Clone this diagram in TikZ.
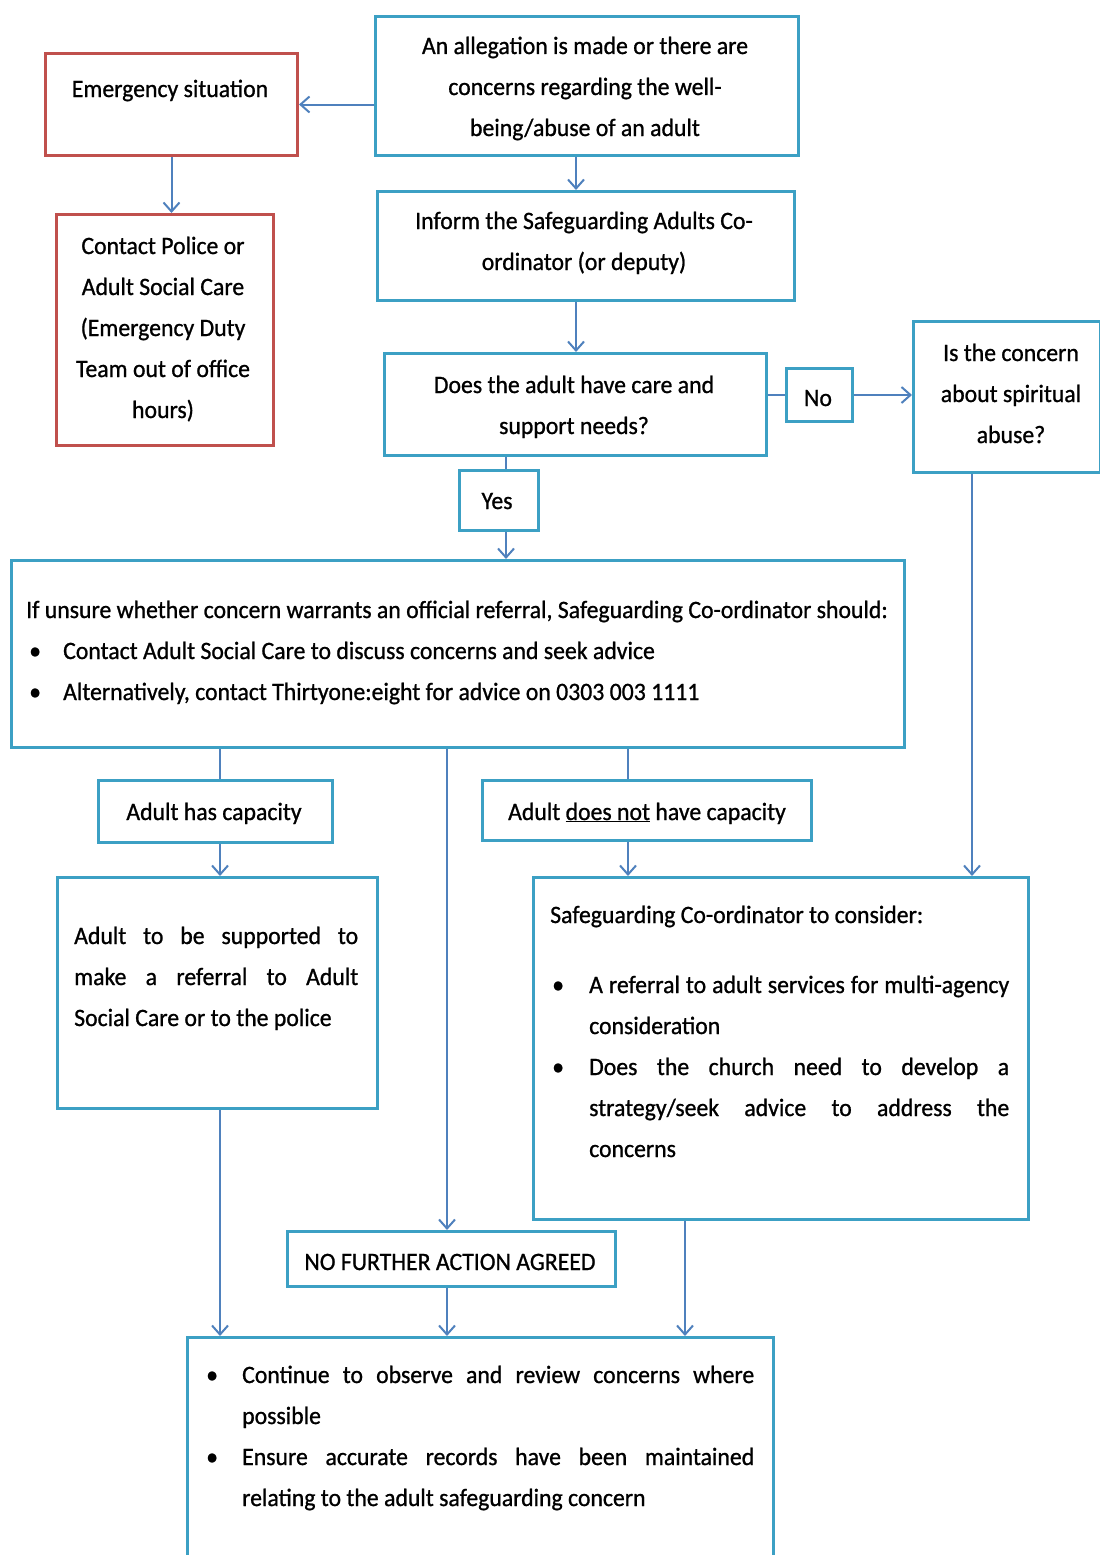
\documentclass[tikz,border=0pt]{standalone}
\usepackage{fontspec}
\setmainfont{Carlito}[FakeStretch=0.95,FakeBold=0.9]
\usetikzlibrary{arrows.meta}
\definecolor{boxblue}{RGB}{60,160,196}
\definecolor{arrblue}{RGB}{79,129,189}
\definecolor{boxred}{RGB}{192,80,77}
\newcommand\diagfont{\fontsize{25}{41}\selectfont}
\begin{document}
\begin{tikzpicture}[x=1pt,y=-1pt,
  bx/.style={draw=boxblue,line width=3pt,anchor=north west,inner sep=0pt},
  rbx/.style={draw=boxred,line width=3pt,anchor=north west,inner sep=0pt},
  txt/.style={inner sep=0pt,font=\diagfont,text width=#1,align=flush center,anchor=base},
  txtl/.style={inner sep=0pt,font=\diagfont,text width=#1,align=flush left,anchor=base west},
  conn/.style={draw=arrblue,line width=2pt},
  arr/.style={conn,-{Straight Barb[length=9pt,width=16pt,line width=2pt]}}]
\clip (0,0) rectangle (1100,1555);
\fill[white] (0,0) rectangle (1100,1555);
% boxes
\node[rbx,minimum width=252pt,minimum height=102pt] (emerg) at (44,52) {};
\node[rbx,minimum width=217pt,minimum height=231pt] (contact) at (55,213) {};
\node[bx,minimum width=423pt,minimum height=139pt] (alleg) at (374,15) {};
\node[bx,minimum width=417pt,minimum height=109pt] (inform) at (376,190) {};
\node[bx,minimum width=382pt,minimum height=102pt] (does) at (383,352) {};
\node[bx,minimum width=66pt,minimum height=53pt] (no) at (785,367) {};
\node[bx,minimum width=187pt,minimum height=151pt] (spirit) at (912,320) {};
\node[bx,minimum width=79pt,minimum height=60pt] (yes) at (458,469) {};
\node[bx,minimum width=893pt,minimum height=187pt] (big) at (10,559) {};
\node[bx,minimum width=234pt,minimum height=62pt] (cap) at (97,779) {};
\node[bx,minimum width=329pt,minimum height=60pt] (ncap) at (481,779) {};
\node[bx,minimum width=320pt,minimum height=231pt] (sup) at (56,876) {};
\node[bx,minimum width=495pt,minimum height=342pt] (sc) at (532,876) {};
\node[bx,minimum width=328pt,minimum height=55pt] (nfa) at (286,1230) {};
\node[bx,minimum width=586pt,minimum height=300pt] (final) at (186,1336) {};
% texts
\node[txt=300pt] (temerg) at (170,97) {Emergency situation};
\node[txt=215pt] (tcontact) at (163,254) {Contact Police or\\Adult Social Care\\(Emergency Duty\\Team out of office\\hours)};
\node[txt=420pt] (talleg) at (585,54) {An allegation is made or there are\\concerns regarding the well-\\being/abuse of an adult};
\node[txt=415pt] (tinform) at (584,229) {Inform the Safeguarding Adults Co-\\ordinator (or deputy)};
\node[txt=380pt] (tdoes) at (574,393) {Does the adult have care and\\support needs?};
\node[txt=60pt] (tno) at (818,406) {No};
\node[txt=185pt] (tspirit) at (1011,361) {Is the concern\\about spiritual\\abuse?};
\node[txt=75pt] (tyes) at (497,509) {Yes};
\node[txtl=1000pt] (tbig) at (26,618) {If unsure whether concern warrants an official referral, Safeguarding Co-ordinator should:\\
\makebox[37pt][l]{\hspace{3pt}\textbullet}Contact Adult Social Care to discuss concerns and seek advice\\
\makebox[37pt][l]{\hspace{3pt}\textbullet}Alternatively, contact Thirtyone:eight for advice on 0303 003 1111};
\node[txt=230pt] (tcap) at (214,820) {Adult has capacity};
\node[txt=325pt] (tncap) at (647,820) {Adult \underline{does not} have capacity};
\node[txtl=290pt] (tsup) at (74,944) {\makebox[284pt][s]{Adult to be supported to}\\
\makebox[284pt][s]{make a referral to Adult}\\
Social Care or to the police};
\node[txtl=500pt] (tsc) at (550,923) {Safeguarding Co-ordinator to consider:\\[29pt]
\makebox[39pt][l]{\hspace{2pt}\textbullet}\makebox[420pt][s]{A referral to adult services for multi-agency}\\
\hspace*{39pt}consideration\\
\makebox[39pt][l]{\hspace{2pt}\textbullet}\makebox[420pt][s]{Does the church need to develop a}\\
\hspace*{39pt}\makebox[420pt][s]{strategy/seek advice to address the}\\
\hspace*{39pt}concerns};
\node[txt=320pt] (tnfa) at (450,1270) {NO FURTHER ACTION AGREED};
\node[txtl=600pt] (tfinal) at (204,1383) {\makebox[38pt][l]{\hspace{2pt}\textbullet}\makebox[512pt][s]{Continue to observe and review concerns where}\\
\hspace*{38pt}possible\\
\makebox[38pt][l]{\hspace{2pt}\textbullet}\makebox[512pt][s]{Ensure accurate records have been maintained}\\
\hspace*{38pt}relating to the adult safeguarding concern};
% helper x positions
\coordinate (cA) at (576,0);
\coordinate (cY) at (506,0);
\coordinate (cL) at (220,0);
\coordinate (cM) at (447,0);
\coordinate (cR) at (628,0);
\coordinate (cS) at (972,0);
\coordinate (cT) at (685,0);
% connectors
\draw[arr] (alleg.west |- emerg.east) -- (emerg.east);
\draw[arr] (emerg.south) -- (emerg.south |- contact.north);
\draw[arr] (alleg.south -| cA) -- (inform.north -| cA);
\draw[arr] (inform.south -| cA) -- (does.north -| cA);
\draw[conn] (does.east |- no.west) -- (no.west);
\draw[arr] (no.east) -- (no.east -| spirit.west);
\draw[conn] (does.south -| cY) -- (yes.north -| cY);
\draw[arr] (yes.south -| cY) -- (big.north -| cY);
\draw[conn] (big.south -| cL) -- (cap.north -| cL);
\draw[arr] (cap.south -| cL) -- (sup.north -| cL);
\draw[arr] (big.south -| cM) -- (nfa.north -| cM);
\draw[conn] (big.south -| cR) -- (ncap.north -| cR);
\draw[arr] (ncap.south -| cR) -- (sc.north -| cR);
\draw[arr] (spirit.south -| cS) -- (sc.north -| cS);
\draw[arr] (sup.south -| cL) -- (final.north -| cL);
\draw[arr] (nfa.south -| cM) -- (final.north -| cM);
\draw[arr] (sc.south -| cT) -- (final.north -| cT);
\end{tikzpicture}
\end{document}
